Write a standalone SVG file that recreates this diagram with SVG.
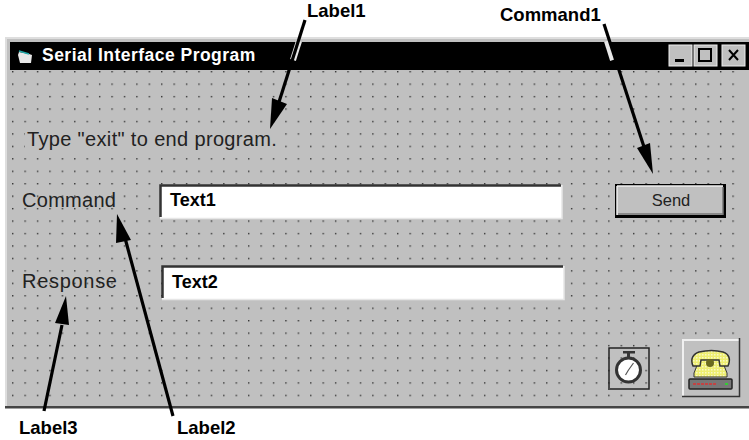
<svg xmlns="http://www.w3.org/2000/svg" width="749" height="440" viewBox="0 0 749 440">
<style>
.ui{font-family:"Liberation Sans",Arial,sans-serif;fill:#222}
.lab{font-family:"Liberation Sans",Arial,sans-serif;font-weight:700;font-size:18.5px;fill:#000}
.box{font-family:"Liberation Sans",Arial,sans-serif;font-weight:700;font-size:18px;fill:#000}
.ar{stroke:#000;stroke-width:3.2;fill:none}
.halo{stroke:#e8e8e8;stroke-width:6;fill:none}
.tip{fill:#000}
</style>
<defs>
<pattern id="dots" x="12" y="71" width="12.42" height="12.45" patternUnits="userSpaceOnUse">
<rect x="-0.2" y="-0.2" width="1.6" height="1.6" fill="#333"/>
</pattern>
<pattern id="dither" width="3" height="3" patternUnits="userSpaceOnUse">
<rect width="3" height="3" fill="#eeee70"/><rect width="1.500" height="1.500" fill="#f8f8c8"/>
</pattern>
</defs>
<rect width="749" height="440" fill="#fff"/>
<g id="window">
<rect x="5" y="37" width="744" height="371" fill="#c0c0c0"/>
<rect x="5" y="37" width="744" height="2" fill="#dedede"/>
<rect x="5" y="37" width="2" height="371" fill="#dedede"/>
<rect x="5" y="406" width="744" height="2.500" fill="#444"/>
<rect x="10" y="42" width="739" height="28" fill="#000"/>
<rect x="10" y="70" width="734" height="332" fill="url(#dots)"/>
<rect x="25" y="123" width="256" height="33" fill="#c0c0c0"/>
<path d="M19 52l10 2 3 1-1 8h-11l-2-8z" fill="#e8e8e8"/><path d="M19 51l10 3" stroke="#2aa" stroke-width="1.500"/>
<text x="42" y="61" font-family="'Liberation Sans',Arial,sans-serif" font-weight="700" font-size="17.500" letter-spacing="0.480" fill="#fff">Serial Interface Program</text>
<g id="winbuttons">
<rect x="669" y="45" width="23" height="21" fill="#c0c0c0" stroke="#eee"/><rect x="675" y="59" width="9" height="3" fill="#000"/>
<rect x="694" y="45" width="23" height="21" fill="#c0c0c0" stroke="#eee"/><rect x="699" y="49" width="12" height="12" fill="none" stroke="#000" stroke-width="2"/>
<rect x="722" y="45" width="23" height="21" fill="#c0c0c0" stroke="#eee"/><path d="M729 50l9 10M738 50l-9 10" stroke="#000" stroke-width="2"/>
</g>
</g>
<g id="label1-text"><text class="ui" x="27" y="146" font-size="20" letter-spacing="0.340">Type "exit" to end program.</text></g>
<g id="label2-text"><text class="ui" x="22" y="207" font-size="20" letter-spacing="0.280">Command</text></g>
<g id="label3-text"><text class="ui" x="22" y="288" font-size="20" letter-spacing="0.700">Response</text></g>
<g id="text1">
<rect x="160" y="185" width="402" height="33" fill="#fff"/>
<path d="M160.500 217V185.500H561" fill="none" stroke="#333" stroke-width="2.500"/>
<path d="M160 218.500H562V185" fill="none" stroke="#e6e6e6" stroke-width="1.500"/>
<text class="box" x="170" y="206">Text1</text>
</g>
<g id="text2">
<rect x="162" y="266" width="402" height="33" fill="#fff"/>
<path d="M162.500 298V266.500H563" fill="none" stroke="#333" stroke-width="2.500"/>
<path d="M162 299.500H564V266" fill="none" stroke="#e6e6e6" stroke-width="1.500"/>
<text class="box" x="172" y="288">Text2</text>
</g>
<g id="command1">
<rect x="615" y="184" width="111" height="34" fill="#000"/>
<rect x="617" y="186" width="106" height="29" fill="#c0c0c0"/>
<path d="M617 186h106M617 186v29" stroke="#eee" stroke-width="1.500"/>
<path d="M618 214h105M723 187v28" stroke="#777" stroke-width="1.500"/>
<text class="ui" x="671" y="206" font-size="16.500" text-anchor="middle">Send</text>
</g>
<g id="timer">
<path d="M609 388V348H649V389H608" fill="none" stroke="#222" stroke-width="1.500"/>
<rect x="623" y="351" width="12" height="2.500" fill="#333"/><rect x="627" y="353" width="3" height="5" fill="#333"/>
<circle cx="628.500" cy="370" r="12" fill="#fff" stroke="#333" stroke-width="3"/>
<path d="M628.500 370l5-7M628.500 370l-3 5" stroke="#555" stroke-width="1.200"/>
</g>
<g id="phone">
<rect x="683" y="340" width="57" height="57" fill="#c0c0c0"/>
<path d="M683 397V340H739" fill="none" stroke="#f0f0f0" stroke-width="2"/>
<path d="M682 396.500H739.500V338" fill="none" stroke="#333" stroke-width="1.500"/>
<path d="M700 358h21l6 15v4h-33v-4z" fill="url(#dither)" stroke="#333" stroke-width="1"/>
<path d="M693 366c-3-7 0-12 6-14 8-2 17-2 24 0 6 2 8 7 5 14h-8l-1-6h-18l-1 6z" fill="url(#dither)" stroke="#333" stroke-width="1.500"/>
<circle cx="710" cy="363" r="4" fill="#6b6b20"/>
<rect x="689" y="379" width="43" height="10" rx="1" fill="#777" stroke="#222" stroke-width="1.500"/>
<path d="M693 384h24" stroke="#d33" stroke-width="1.500" stroke-dasharray="3 1"/>
<rect x="725" y="383" width="3" height="2" fill="#3c3"/>
</g>
<g id="connectors">
<path class="halo" d="M299 41L293 60"/>
<path class="ar" d="M305 20L279 102"/>
<path class="tip" d="M270 129L272 98 287 104Z"/>
<path class="halo" d="M607 41L613 60"/>
<path class="ar" d="M604 24L645 150"/>
<path class="tip" d="M653 174L637 148 650 143Z"/>
<path class="ar" d="M173 416L125 238"/>
<path class="tip" d="M117 214L131 240 116 243Z"/>
<path class="ar" d="M44 411L62 325"/>
<path class="tip" d="M66 296L69 325 55 323Z"/>
</g>
<g id="label1"><text class="lab" x="307" y="17">Label1</text></g>
<g id="cmd1"><text class="lab" x="500" y="21">Command1</text></g>
<g id="label3"><text class="lab" x="19" y="434">Label3</text></g>
<g id="label2"><text class="lab" x="177" y="434">Label2</text></g>
</svg>
